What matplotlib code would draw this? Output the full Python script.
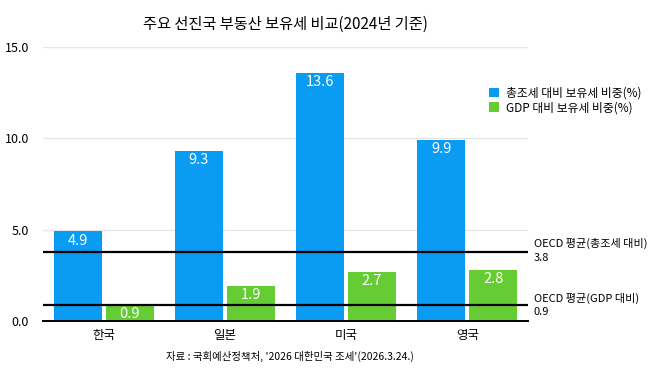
import matplotlib
matplotlib.use("Agg")
import matplotlib.pyplot as plt
import numpy as np

plt.rcParams['font.family'] = ['Noto Sans CJK KR', 'DejaVu Sans']

categories = ['한국', '일본', '미국', '영국']
total_tax_share = [4.9, 9.3, 13.6, 9.9]
gdp_share = [0.9, 1.9, 2.7, 2.8]
oecd_total = 3.8
oecd_gdp = 0.9
yticks = [0.0, 5.0, 10.0, 15.0]

blue = '#0A9CF2'
green = '#66CC33'

fig = plt.figure(figsize=(6.58, 3.72), dpi=100)
ax = fig.add_axes([43/658, 1-321/372, 485/658, 274/372])

x = np.arange(len(categories))
w = 0.395
off = 0.214
b1 = ax.bar(x - off, total_tax_share, w, color=blue, label='총조세 대비 보유세 비중(%)', zorder=2)
b2 = ax.bar(x + off, gdp_share, w, color=green, label='GDP 대비 보유세 비중(%)', zorder=2)

for bars, vals in ((b1, total_tax_share), (b2, gdp_share)):
    for r, v in zip(bars, vals):
        ax.text(r.get_x() + r.get_width()/2, v - 0.12, f'{v:.1f}', ha='center', va='top',
                color='white', fontsize=10.5, zorder=3)

ax.axhline(oecd_total, color='black', lw=1.6, zorder=4)
ax.axhline(oecd_gdp, color='black', lw=1.6, zorder=4)

ax.set_xlim(-0.5, 3.5)
ax.set_ylim(0, 15)
ax.set_yticks(yticks)
ax.set_yticklabels([f'{t:.1f}' for t in yticks], fontsize=9)
ax.set_xticks(x)
ax.set_xticklabels(categories, fontsize=9)
ax.tick_params(length=0, pad=6)
ax.tick_params(axis='y', pad=10)
ax.yaxis.grid(True, color='#e6e6e6', lw=1, zorder=0)
for s in ['top', 'right', 'left']:
    ax.spines[s].set_visible(False)
ax.spines['bottom'].set_color('black')
ax.spines['bottom'].set_linewidth(1.4)
ax.spines['bottom'].set_zorder(5)

ax.set_title('주요 선진국 부동산 보유세 비교(2024년 기준)', fontsize=11, pad=13)

fig.legend(handles=[b1, b2], loc='upper left', bbox_to_anchor=(478/658, 1-76/372),
           frameon=False, fontsize=8.5, handlelength=0.9, handleheight=0.9,
           handletextpad=0.6, labelspacing=0.15)

fig.text(534/658, 1-243/372, 'OECD 평균(총조세 대비)', fontsize=8, va='center', ha='left')
fig.text(534/658, 1-258/372, f'{oecd_total}', fontsize=8, va='center', ha='left')
fig.text(534/658, 1-298/372, 'OECD 평균(GDP 대비)', fontsize=8, va='center', ha='left')
fig.text(534/658, 1-312/372, f'{oecd_gdp}', fontsize=8, va='center', ha='left')

fig.text(290/658, 1-356/372, "자료 : 국회예산정책처, '2026 대한민국 조세'(2026.3.24.)",
         fontsize=7.5, ha='center', va='center')

fig.savefig('out.png', dpi=100)
